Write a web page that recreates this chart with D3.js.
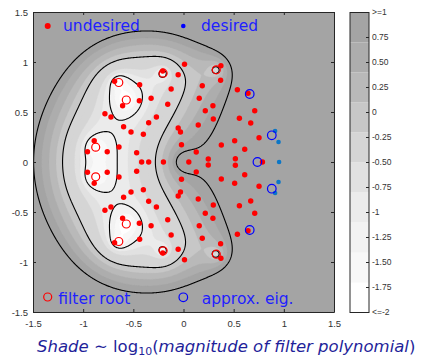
<!DOCTYPE html>
<html><head><meta charset="utf-8">
<script src="https://cdn.jsdelivr.net/npm/d3@7"></script>
<style>
html,body{margin:0;padding:0;background:#fff;}
svg{display:block;}
</style></head><body>
<svg id="chart" width="421" height="358"></svg>
<script>
// ---------------- data ----------------
// filter roots (red circles)
const rootX = [-0.875, -0.875, -0.57, -0.57, -0.645, -0.645, -0.203, -0.203, 0.327, 0.327];
const rootY = [0.148, -0.148, 0.62, -0.62, 0.795, -0.795, 0.888, -0.888, 0.922, -0.922];
// pole of the shaded function (origin)
const poleX = [0];
const poleY = [0];
// approximate eigenvalues (blue circles)
const approxX = [0.66, 0.66, 0.88, 0.88, 0.737];
const approxY = [0.68, -0.68, 0.267, -0.267, 0];
// desired eigenvalues (blue dots)
const desiredX = [0.913, 0.913, 0.947, 0.947, 0.953];
const desiredY = [0.31, -0.31, 0.2, -0.2, 0];
// undesired eigenvalues (red dots)
const undesiredX = [
  0.01, 0.373, -0.207, -0.053, 0.37, 0.187, -0.123, 0.537, 0.643, -0.437, -0.687, -0.323, -0.44, -0.157, 0.157,
  0.293, 0.217, -0.607, 0.71, -0.783, -0.723, -0.27, 0.297, 0.557, 0.67, -0.347, 0.147, -0.597, -0.523, -0.40,
  -0.053, -0.03, 0.753, -0.02, 0.377, 0.51, 0.61, -0.89, -0.643, -0.76, -0.957, -0.467, 0.127, 0.247, 0.517,
  -0.417, -0.347, -0.2, 0.053, 0.787,
  0.01, 0.373, -0.207, -0.053, 0.37, 0.187, -0.123, 0.537, 0.643, -0.437, -0.687, -0.323, -0.44, -0.157, 0.157,
  0.293, 0.217, -0.607, 0.71, -0.783, -0.723, -0.27, 0.297, 0.557, 0.67, -0.347, 0.147, -0.597, -0.523, -0.40,
  -0.053, -0.03, 0.753, -0.02, 0.377, 0.51, 0.61, -0.89, -0.643, -0.76, -0.957, -0.467, 0.127, 0.247, 0.517
];
const undesiredY = [
  0.977, 0.963, 0.91, 0.873, 0.817, 0.763, 0.73, 0.723, 0.687, 0.773, 0.807, 0.637, 0.613, 0.577, 0.637,
  0.563, 0.513, 0.563, 0.513, 0.483, 0.45, 0.45, 0.43, 0.437, 0.39, 0.393, 0.37, 0.353, 0.30, 0.277,
  0.34, 0.30, 0.243, 0.173, 0.17, 0.213, 0.127, 0.213, 0.15, 0.103, 0.103, 0.093, 0.1, 0.03, 0.033,
  0, 0, 0, 0, 0,
  -0.977, -0.963, -0.91, -0.873, -0.817, -0.763, -0.73, -0.723, -0.687, -0.773, -0.807, -0.637, -0.613, -0.577, -0.637,
  -0.563, -0.513, -0.563, -0.513, -0.483, -0.45, -0.45, -0.43, -0.437, -0.39, -0.393, -0.37, -0.353, -0.30, -0.277,
  -0.34, -0.30, -0.243, -0.173, -0.17, -0.213, -0.127, -0.213, -0.15, -0.103, -0.103, -0.093, -0.1, -0.03, -0.033
];
// shading levels, black contour levels, colour map (bottom = white -> top = gray)
const shadeLevels = [-2, -1.75, -1.5, -1.25, -1, -0.75, -0.5, -0.25, 0, 0.25, 0.5, 0.75, 1];
const lineLevels = [-1, 0, 1];
const grayMap = ["#ffffff", "#f8f8f8", "#f2f2f2", "#ebebeb", "#e1e1e1", "#d5d5d5", "#c7c7c7", "#b9b9b9", "#adadad", "#a4a4a4"];
const cbarValues = [1, 0.75, 0.5, 0.25, 0, -0.25, -0.5, -0.75, -1, -1.25, -1.5, -1.75, -2];
const cbarLabels = [">=1", "0.75", "0.50", "0.25", "0", "-0.25", "-0.50", "-0.75", "-1", "-1.25", "-1.50", "-1.75", "<=-2"];
const axisTicks = [-1.5, -1, -0.5, 0, 0.5, 1, 1.5];
const legendLabels = ["undesired", "desired", "filter root", "approx. eig."];

// ---------------- layout ----------------
const svg = d3.select("#chart");
const x = d3.scaleLinear().domain([-1.5, 1.5]).range([33, 334]);
const y = d3.scaleLinear().domain([-1.5, 1.5]).range([312, 12]);
const cmin = -2, cmax = 1;
const colorFor = t => grayMap[Math.max(0, Math.min(grayMap.length - 1, Math.floor((t - cmin) / (cmax - cmin) * grayMap.length + 1e-9)))];

// ---------------- field: log10 |prod(1 - z/r_i)| - log10|z - pole| ----------------
const N = 481, step = 3 / (N - 1);
const vals = new Float64Array(N * N);
let logR = 0;
for (let k = 0; k < rootX.length; k++) logR += Math.log10(Math.hypot(rootX[k], rootY[k]));
for (let j = 0; j < N; j++) {
  const yy = 1.5 - j * step;
  for (let i = 0; i < N; i++) {
    const xx = -1.5 + i * step;
    let s = -logR;
    for (let k = 0; k < rootX.length; k++) s += Math.log10(Math.hypot(xx - rootX[k], yy - rootY[k]) + 1e-12);
    for (let p = 0; p < poleX.length; p++) s -= Math.log10(Math.hypot(xx - poleX[p], yy - poleY[p]) + 1e-12);
    if (isNaN(s)) s = 0;
    vals[j * N + i] = Math.max(-5, Math.min(5, s));
  }
}
const gridT = d3.geoTransform({
  point: function (gx, gy) { this.stream.point(x(-1.5 + (gx - 0.5) * step), y(1.5 - (gy - 0.5) * step)); }
});
const gpath = d3.geoPath(gridT);

svg.append("defs").append("clipPath").attr("id", "plotclip")
  .append("rect").attr("x", x(-1.5)).attr("y", y(1.5)).attr("width", x(1.5) - x(-1.5)).attr("height", y(-1.5) - y(1.5));

const plot = svg.append("g").attr("clip-path", "url(#plotclip)");
plot.append("rect").attr("x", x(-1.5)).attr("y", y(1.5)).attr("width", x(1.5) - x(-1.5)).attr("height", y(-1.5) - y(1.5))
  .attr("fill", grayMap[0]);

const fills = d3.contours().size([N, N]).thresholds(shadeLevels)(vals);
plot.selectAll("path.fill").data(fills).join("path").attr("class", "fill")
  .attr("d", gpath).attr("fill", d => colorFor(d.value)).attr("stroke", d => colorFor(d.value)).attr("stroke-width", 0.3);

const neg = vals.map(v => -v);
const lines = d3.contours().size([N, N]).thresholds(lineLevels.map(v => -v))(neg);
plot.selectAll("path.line").data(lines).join("path").attr("class", "line")
  .attr("d", gpath).attr("fill", "none").attr("stroke", "#000").attr("stroke-width", 1.1);

// ---------------- points ----------------
const pts = svg.append("g");
pts.selectAll("circle.des").data(desiredX.map((v, i) => [v, desiredY[i]])).join("circle").attr("class", "des")
  .attr("cx", d => x(d[0])).attr("cy", d => y(d[1])).attr("r", 2.3).attr("fill", "#0b76c6");
pts.selectAll("circle.und").data(undesiredX.map((v, i) => [v, undesiredY[i]])).join("circle").attr("class", "und")
  .attr("cx", d => x(d[0])).attr("cy", d => y(d[1])).attr("r", 2.7).attr("fill", "#ff0000");
pts.selectAll("circle.root").data(rootX.map((v, i) => [v, rootY[i]])).join("circle").attr("class", "root")
  .attr("cx", d => x(d[0])).attr("cy", d => y(d[1])).attr("r", 4).attr("fill", "none").attr("stroke", "#ff0000").attr("stroke-width", 1.2);
pts.selectAll("circle.appr").data(approxX.map((v, i) => [v, approxY[i]])).join("circle").attr("class", "appr")
  .attr("cx", d => x(d[0])).attr("cy", d => y(d[1])).attr("r", 4.3).attr("fill", "none").attr("stroke", "#0000ff").attr("stroke-width", 1.2);

// ---------------- axes ----------------
const fmt = d => String(d);
const axCol = "#262626";
function styleAxis(g) {
  g.selectAll("path.domain").attr("stroke", axCol).attr("stroke-width", 1);
  g.selectAll(".tick line").attr("stroke", axCol);
  g.selectAll(".tick text").attr("fill", "#333").style("font-family", "'Liberation Sans', Arial, sans-serif").style("font-size", "9.5px");
}
svg.append("g").attr("transform", `translate(0,${y(-1.5)})`)
  .call(d3.axisBottom(x).tickValues(axisTicks).tickSizeInner(-3).tickSizeOuter(0).tickPadding(8).tickFormat(fmt)).call(styleAxis);
svg.append("g").attr("transform", `translate(0,${y(1.5)})`)
  .call(d3.axisTop(x).tickValues(axisTicks).tickSizeInner(-3).tickSizeOuter(0).tickFormat("")).call(styleAxis);
svg.append("g").attr("transform", `translate(${x(-1.5)},0)`)
  .call(d3.axisLeft(y).tickValues(axisTicks).tickSizeInner(-3).tickSizeOuter(0).tickPadding(5).tickFormat(fmt)).call(styleAxis);
svg.append("g").attr("transform", `translate(${x(1.5)},0)`)
  .call(d3.axisRight(y).tickValues(axisTicks).tickSizeInner(-3).tickSizeOuter(0).tickFormat("")).call(styleAxis);
svg.selectAll(".domain").attr("fill", "none");

// ---------------- legend ----------------
const lg = svg.append("g").style("font-family", "'DejaVu Sans', sans-serif").style("font-size", "15.5px").attr("fill", "#1f1fff");
lg.append("circle").attr("cx", 47.7).attr("cy", 26).attr("r", 3).attr("fill", "#ff0000");
lg.append("text").attr("x", 63).attr("y", 30.5).text(legendLabels[0]);
lg.append("circle").attr("cx", 183.3).attr("cy", 26).attr("r", 2.3).attr("fill", "#0000ff");
lg.append("text").attr("x", 201).attr("y", 30.5).text(legendLabels[1]);
lg.append("circle").attr("cx", 47.7).attr("cy", 297).attr("r", 4).attr("fill", "none").attr("stroke", "#ff0000").attr("stroke-width", 1.2);
lg.append("text").attr("x", 58.3).attr("y", 304).text(legendLabels[2]);
lg.append("circle").attr("cx", 183.3).attr("cy", 297.3).attr("r", 4.3).attr("fill", "none").attr("stroke", "#0000ff").attr("stroke-width", 1.2);
lg.append("text").attr("x", 201.7).attr("y", 304).text(legendLabels[3]);

// ---------------- colorbar ----------------
const cy = d3.scaleLinear().domain([-2, 1]).range([312.5, 12.5]);
const cb = svg.append("g");
const bandW = (cmax - cmin) / grayMap.length;
cb.selectAll("rect.band").data(grayMap).join("rect").attr("class", "band")
  .attr("x", 350).attr("width", 19)
  .attr("y", (c, i) => cy(cmin + (i + 1) * bandW)).attr("height", (c, i) => cy(cmin + i * bandW) - cy(cmin + (i + 1) * bandW))
  .attr("fill", c => c);
cb.append("rect").attr("x", 350).attr("y", cy(1)).attr("width", 19).attr("height", cy(-2) - cy(1))
  .attr("fill", "none").attr("stroke", axCol).attr("stroke-width", 1);
cb.selectAll("line.ct").data(cbarValues).join("line").attr("class", "ct")
  .attr("x1", 366).attr("x2", 369).attr("y1", d => cy(d)).attr("y2", d => cy(d)).attr("stroke", axCol);
cb.selectAll("text.cl").data(cbarValues).join("text").attr("class", "cl")
  .attr("x", 372).attr("y", d => cy(d)).attr("dy", "0.35em")
  .style("font-family", "'Liberation Sans', Arial, sans-serif").style("font-size", "8.5px").attr("fill", "#333")
  .text((d, i) => cbarLabels[i]);

// ---------------- title ----------------
const title = svg.append("text").attr("x", 37).attr("y", 352)
  .style("font-family", "'DejaVu Sans', sans-serif").style("font-size", "16.5px").attr("fill", "#1f1f9a");
title.append("tspan").style("font-style", "italic").text("Shade");
title.append("tspan").text(" \u223C log");
title.append("tspan").attr("dy", 3).style("font-size", "11px").text("10");
title.append("tspan").attr("dy", -3).text("(");
title.append("tspan").style("font-style", "italic").text("magnitude of filter polynomial");
title.append("tspan").text(")");
</script>
</body></html>
